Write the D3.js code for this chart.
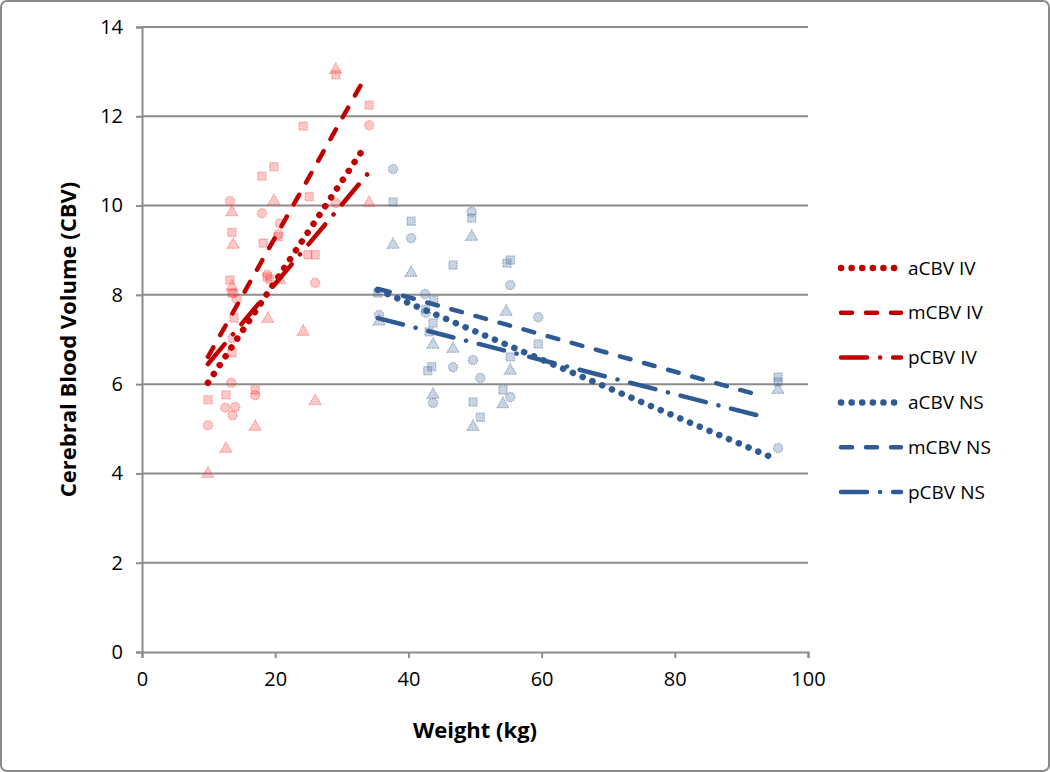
<!DOCTYPE html>
<html>
<head>
<meta charset="utf-8">
<script src="https://cdn.jsdelivr.net/npm/d3@7"></script>
<style>
  html, body { margin: 0; padding: 0; background: #ffffff; }
  svg { display: block; font-family: "Open Sans", "Liberation Sans", sans-serif; }
</style>
</head>
<body>
<div id="chart"></div>
<script>
// scatter points [weight kg, CBV]
const ivA = [[9.9,5.08],[13.2,10.1],[18,9.83],[20.7,9.6],[34.1,11.8],[29.1,10.06],[13.7,8.04],[18.8,8.45],[26,8.27],
  [13.4,6.03],[12.5,5.47],[14,5.49],[13.6,5.3],[17,5.75],[13.6,7.03],[20.5,9.35],[14.2,7.9]];
const ivM = [[13.5,9.4],[18,10.66],[19.8,10.87],[24.2,11.78],[29.1,12.93],[34.1,12.25],[25.1,10.2],[18.2,9.16],[20.4,9.3],
  [13.2,8.33],[13.5,8.04],[18.8,8.4],[26,8.9],[24.9,8.9],[13.8,7.48],[13.5,6.7],[9.9,5.65],[12.6,5.76],[17,5.87],[19.2,8.35]];
const ivP = [[29.1,13.04],[13.5,9.85],[19.8,10.1],[34.1,10.06],[13.7,9.12],[18.9,7.46],[24.2,7.17],[26,5.62],[17,5.04],
  [12.6,4.55],[9.9,3.99],[20.7,8.33],[13.5,8.18]];
const nsA = [[37.7,10.82],[40.4,9.27],[49.5,9.86],[55.3,8.22],[35.6,7.55],[42.5,8.02],[49.7,6.54],[46.7,6.38],[50.8,6.14],
  [43.7,5.58],[55.3,5.71],[59.5,7.5],[95.5,4.57],[42.6,7.6]];
const nsM = [[37.7,10.08],[40.4,9.65],[46.7,8.67],[49.5,9.72],[54.8,8.71],[55.3,8.78],[35.4,8.04],[43.8,7.88],[42.6,7.68],
  [43.7,7.37],[43.1,7.17],[43.5,6.39],[42.9,6.3],[49.7,5.6],[50.8,5.26],[54.2,5.87],[59.5,6.9],[55.3,6.61],[95.5,6.16],[95.5,6.05]];
const nsP = [[37.7,9.12],[40.4,8.49],[49.5,9.3],[35.6,7.4],[43.7,6.88],[46.7,6.79],[43.7,5.76],[49.7,5.04],[54.2,5.55],
  [54.7,7.62],[55.3,6.3],[95.5,5.87]];

// linear trend lines, start and end
const trendNames = ["aCBV IV", "mCBV IV", "pCBV IV", "aCBV NS", "mCBV NS", "pCBV NS"];
const trendEnds = [
  [[9.9, 6.03], [33.5, 11.33]],
  [[9.9, 6.61], [33.2, 12.79]],
  [[9.9, 6.45], [34.1, 10.75]],
  [[35.4, 8.11], [94.4, 4.37]],
  [[35.6, 8.13], [93.2, 5.73]],
  [[35.4, 7.48], [93.5, 5.26]]
];

const xTicks = [0, 20, 40, 60, 80, 100];
const yTicks = [0, 2, 4, 6, 8, 10, 12, 14];

const width = 1050, height = 772;
const margin = {top: 27, right: 242, bottom: 120, left: 142};
const RED = "#c00000", BLUE = "#2f5b94";
const RED_PT = "#ff3b3b", BLUE_PT = "#3f669c";
const GRID = "#8c8c8c";

const dashStyles = {
  a: {dash: "0.1,10.5", w: 6.5},
  m: {dash: "11,14", w: 4.5},
  p: {dash: "26,13,0.1,13", w: 4.5}
};

const svg = d3.select("#chart").append("svg")
  .attr("width", width)
  .attr("height", height);

svg.append("rect")
  .attr("x", 1).attr("y", 1)
  .attr("width", width - 2).attr("height", height - 2)
  .attr("rx", 6)
  .attr("fill", "#fff")
  .attr("stroke", "#8a8a8a")
  .attr("stroke-width", 2);

const x = d3.scaleLinear().domain([0, 100]).range([margin.left, width - margin.right]);
const y = d3.scaleLinear().domain([0, 14]).range([height - margin.bottom, margin.top]);

// gridlines
svg.append("g")
  .selectAll("line")
  .data(yTicks.filter(d => d > 0))
  .join("line")
  .attr("x1", x(0)).attr("x2", x(100))
  .attr("y1", d => y(d)).attr("y2", d => y(d))
  .attr("stroke", GRID)
  .attr("stroke-width", 2);

// axes
const yAxis = svg.append("g")
  .attr("transform", `translate(${x(0)},0)`)
  .call(d3.axisLeft(y).tickValues(yTicks).tickSize(6).tickPadding(13));
const xAxis = svg.append("g")
  .attr("transform", `translate(0,${y(0)})`)
  .call(d3.axisBottom(x).tickValues(xTicks).tickSize(6).tickPadding(14));

[xAxis, yAxis].forEach(g => {
  g.select(".domain").attr("stroke", GRID).attr("stroke-width", 2);
  g.selectAll(".tick line").attr("stroke", GRID).attr("stroke-width", 2);
  g.selectAll(".tick text")
    .attr("fill", "#000")
    .style("font-size", "20px")
    .style("font-family", "'Open Sans', sans-serif");
});

// axis titles
svg.append("text")
  .attr("x", (x(0) + x(100)) / 2)
  .attr("y", 738)
  .attr("text-anchor", "middle")
  .style("font-size", "22px")
  .style("font-weight", "bold")
  .text("Weight (kg)");

svg.append("text")
  .attr("transform", `translate(76,${(y(0) + y(14)) / 2}) rotate(-90)`)
  .attr("text-anchor", "middle")
  .style("font-size", "22px")
  .style("font-weight", "bold")
  .text("Cerebral Blood Volume (CBV)");

// markers
const symbols = {a: d3.symbolCircle, m: d3.symbolSquare, p: d3.symbolTriangle};
const groups = [
  {data: ivA, kind: "a", color: RED_PT},
  {data: ivM, kind: "m", color: RED_PT},
  {data: ivP, kind: "p", color: RED_PT},
  {data: nsA, kind: "a", color: BLUE_PT},
  {data: nsM, kind: "m", color: BLUE_PT},
  {data: nsP, kind: "p", color: BLUE_PT}
];

const pts = svg.append("g");
groups.forEach(gr => {
  const sym = d3.symbol().type(symbols[gr.kind]).size(gr.kind === "p" ? 62 : 66);
  pts.selectAll(null)
    .data(gr.data)
    .join("path")
    .attr("transform", d => `translate(${x(d[0])},${y(d[1])})`)
    .attr("d", sym)
    .attr("fill", gr.color)
    .attr("fill-opacity", 0.28)
    .attr("stroke", gr.color)
    .attr("stroke-opacity", 0.45)
    .attr("stroke-width", 1.3)
    .attr("stroke-dasharray", "1.5,1");
});

// trend lines
const kinds = ["a", "m", "p", "a", "m", "p"];
const colors = [RED, RED, RED, BLUE, BLUE, BLUE];
const line = d3.line().x(d => x(d[0])).y(d => y(d[1]));

svg.append("g")
  .selectAll("path")
  .data(trendEnds)
  .join("path")
  .attr("d", line)
  .attr("fill", "none")
  .attr("stroke", (d, i) => colors[i])
  .attr("stroke-width", (d, i) => dashStyles[kinds[i]].w)
  .attr("stroke-dasharray", (d, i) => dashStyles[kinds[i]].dash)
  .attr("stroke-linecap", "round");

// legend
const legend = svg.append("g");
const legY0 = 268, legStep = 44.8;
trendNames.forEach((name, i) => {
  const ly = legY0 + i * legStep;
  legend.append("line")
    .attr("x1", 841).attr("x2", 901)
    .attr("y1", ly).attr("y2", ly)
    .attr("stroke", colors[i])
    .attr("stroke-width", dashStyles[kinds[i]].w)
    .attr("stroke-dasharray", dashStyles[kinds[i]].dash)
    .attr("stroke-linecap", "round");
  legend.append("text")
    .attr("x", 908)
    .attr("y", ly)
    .attr("dy", "0.35em")
    .style("font-size", "19px")
    .text(name);
});
</script>
</body>
</html>
